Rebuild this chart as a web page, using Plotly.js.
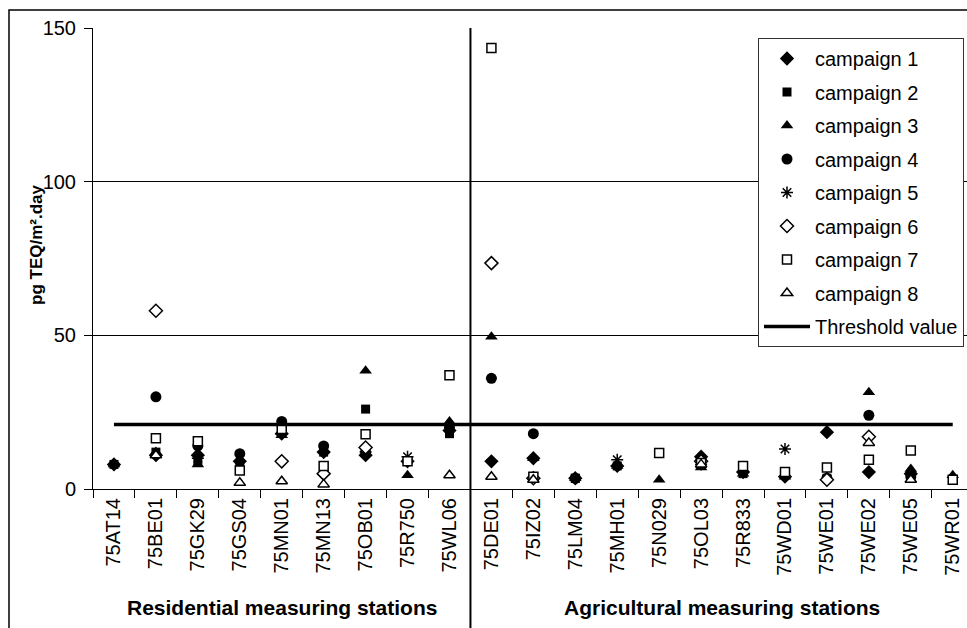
<!DOCTYPE html>
<html>
<head>
<meta charset="utf-8">
<script src="https://cdn.plot.ly/plotly-3.0.1.min.js"></script>
<style>html,body{margin:0;padding:0;background:#fff;}#chart{width:967px;height:628px;}</style>
</head>
<body>
<div id="chart"></div>
<script>
const stations = ["75AT14","75BE01","75GK29","75GS04","75MN01","75MN13","75OB01","75R750","75WL06",
  "75DE01","75IZ02","75LM04","75MH01","75N029","75OL03","75R833","75WD01","75WE01","75WE02","75WE05","75WR01"];
const campaign1 = [8, 11, 11, 9, 18, 12, 11, 9, 19, 9, 10, 3.5, 7.5, null, 10.5, 5.5, 4, 18.5, 5.5, 5, null];
const campaign2 = [8, 12, 9, 8, 19, 12, 26, null, 18, null, 4, 3.5, 7.5, null, 8, 5, null, 3.5, null, 4.5, 3];
const campaign3 = [8, 12, 8, null, 17.5, 12.5, 38.5, 4.5, 22, 49.5, 10, 3.5, 7.5, 3, 7, 5, 4, 4, 31.5, 6.5, 4.5];
const campaign4 = [null, 30, 14, 11.5, 22, 14, 12, null, 20, 36, 18, 3.5, null, null, 9.5, null, null, 3.5, 24, 4, null];
const campaign5 = [null, null, 10, null, null, null, 12, 10.5, null, null, null, 3.5, 9.5, null, 8, null, 13, null, null, null, null];
const campaign6 = [null, 58, null, null, 9, 5, 13.5, null, null, 73.5, 3.5, null, null, null, 9, null, null, 3, 17, null, null];
const campaign7 = [null, 16.5, 15.5, 6, 19.5, 7.5, 17.8, 9, 37, 143.5, 4, null, null, 11.7, 8.5, 7.5, 5.5, 7, 9.5, 12.5, 3];
const campaign8 = [null, 11, null, 2, 2.5, 1.5, null, null, 4.5, 4, 3, null, null, null, 8, null, null, null, 15, 3, null];
const thresholdValue = 21;
const seriesNames = ["campaign 1","campaign 2","campaign 3","campaign 4","campaign 5","campaign 6","campaign 7","campaign 8"];
const groupLabels = ["Residential measuring stations", "Agricultural measuring stations"];
const yTitle = "pg TEQ/m².day";

const allSeries = [campaign1, campaign2, campaign3, campaign4, campaign5, campaign6, campaign7, campaign8];
const markerStyles = [
  {symbol: "diamond", size: 11, color: "#000", line: {width: 0}},
  {symbol: "square", size: 9, color: "#000", line: {width: 0}},
  {symbol: "triangle-up", size: 11, color: "#000", line: {width: 0}},
  {symbol: "circle", size: 11, color: "#000", line: {width: 0}},
  {symbol: "asterisk-open", size: 10, color: "#000", line: {width: 1.5, color: "#000"}},
  {symbol: "diamond", size: 10, color: "#fff", line: {width: 1.5, color: "#000"}},
  {symbol: "square", size: 9, color: "#fff", line: {width: 1.5, color: "#000"}},
  {symbol: "triangle-up", size: 10, color: "#fff", line: {width: 1.5, color: "#000"}}
];

const traces = allSeries.map((vals, i) => ({
  type: "scatter", mode: "markers", name: seriesNames[i],
  x: stations, y: vals, marker: markerStyles[i], legendgroup: "g" + i,
  cliponaxis: false
}));
traces.push({
  type: "scatter", mode: "lines", name: "Threshold value",
  x: [stations[0], stations[stations.length - 1]], y: [thresholdValue, thresholdValue],
  line: {color: "#000", width: 3.5}, legendgroup: "thr"
});

const L = 93, T = 28, B = 139, W = 967, H = 628;
const plotW = W - L, plotH = H - T - B;
const px = v => (v - L) / plotW;
const py = v => (H - B - v) / plotH;

const layout = {
  width: W, height: H,
  margin: {l: L, r: 0, t: T, b: B, pad: 0},
  paper_bgcolor: "#fff", plot_bgcolor: "#fff",
  font: {family: "Liberation Sans, Arial, sans-serif", size: 20, color: "#000"},
  showlegend: true,
  legend: {
    x: px(758), y: py(38), xanchor: "left", yanchor: "top",
    bgcolor: "#fff", bordercolor: "#333", borderwidth: 1,
    font: {size: 20, color: "#000"}, tracegroupgap: 4.5, itemwidth: 46,
    traceorder: "grouped"
  },
  xaxis: {
    type: "category", categoryorder: "array", categoryarray: stations,
    range: [-0.5, 20.34], tickson: "boundaries", ticks: "outside", ticklen: 8,
    tickcolor: "#000", tickwidth: 1, showline: true, linecolor: "#000", linewidth: 1,
    showgrid: false, zeroline: false, tickangle: -90, tickfont: {size: 20},
    fixedrange: true
  },
  yaxis: {
    range: [0, 150], tickvals: [0, 50, 100, 150], ticks: "outside", ticklen: 8,
    ticklabelstandoff: 4,
    tickcolor: "#000", showline: true, linecolor: "#000", linewidth: 1,
    showgrid: true, gridcolor: "#000", gridwidth: 1, zeroline: false,
    tickfont: {size: 20}, fixedrange: true
  },
  shapes: [
    {type: "line", xref: "x", yref: "paper", x0: 8.5, x1: 8.5, y0: py(640), y1: 1,
     line: {color: "#000", width: 2}},
    {type: "rect", xref: "paper", yref: "paper", x0: px(9), x1: px(990), y0: py(660), y1: py(10),
     line: {color: "#000", width: 1.5}, fillcolor: "rgba(0,0,0,0)", layer: "above"}
  ],
  annotations: [
    {text: "<b>" + groupLabels[0] + "</b>", xref: "x", yref: "paper", x: 4, y: py(607),
     showarrow: false, font: {size: 21}, xanchor: "center", yanchor: "middle"},
    {text: "<b>" + groupLabels[1] + "</b>", xref: "x", yref: "paper", x: 14.5, y: py(607),
     showarrow: false, font: {size: 21}, xanchor: "center", yanchor: "middle"},
    {text: "<b>" + yTitle + "</b>", xref: "paper", yref: "paper", x: px(37), y: py(245),
     showarrow: false, textangle: -90, font: {size: 17}, xanchor: "center", yanchor: "middle"}
  ]
};

Plotly.newPlot("chart", traces, layout, {staticPlot: true, displayModeBar: false});
</script>
</body>
</html>
